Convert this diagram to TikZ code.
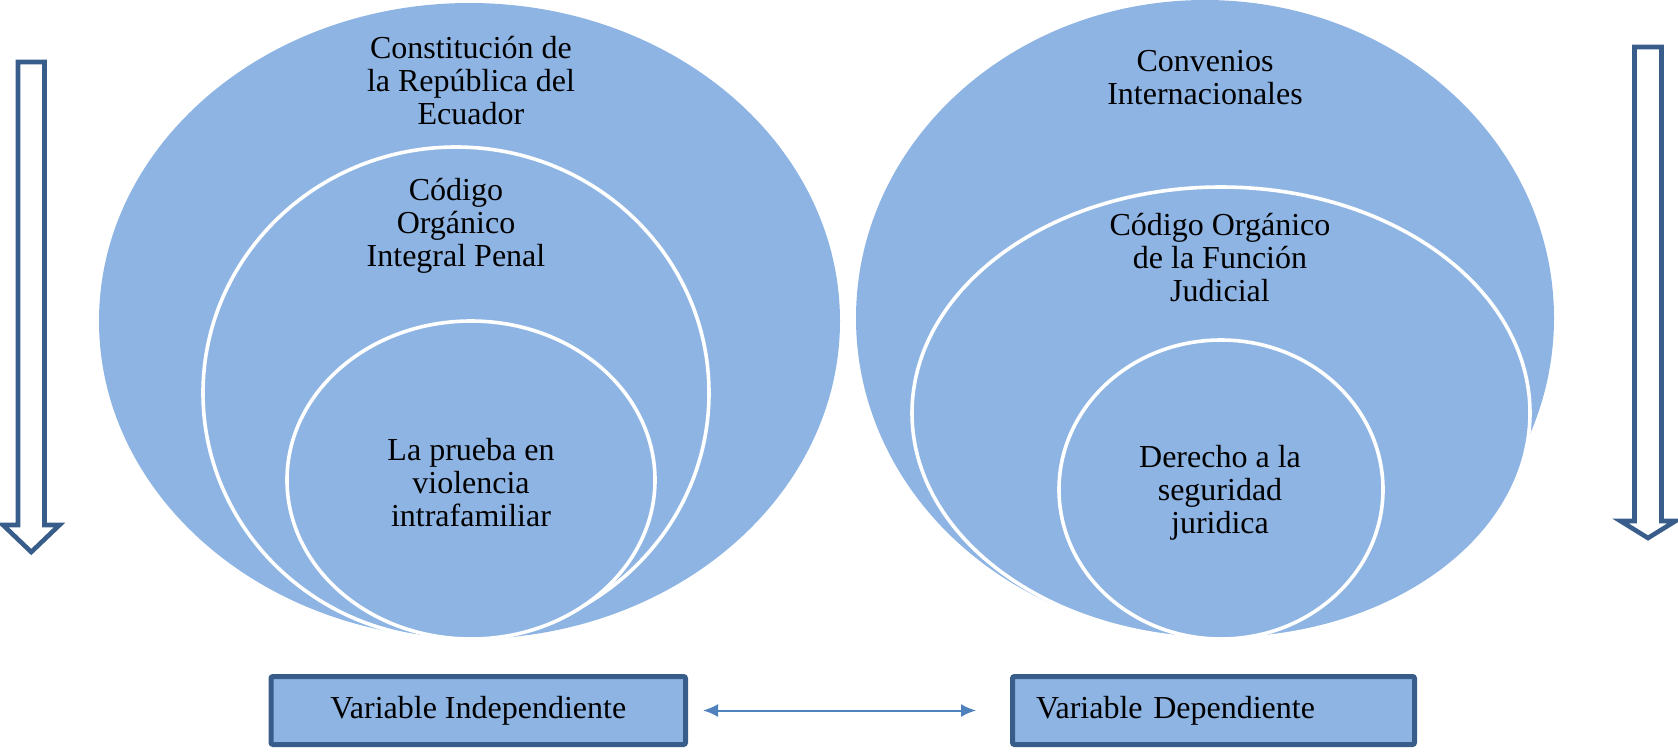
\documentclass[tikz,border=0pt]{standalone}
\usepackage{fontspec}
\setmainfont{Liberation Serif}
\usetikzlibrary{positioning,arrows.meta}
\definecolor{ringblue}{HTML}{8EB4E3}
\definecolor{boxblue}{HTML}{385D8A}
\definecolor{linkblue}{HTML}{4F81BD}

\begin{document}
\begin{tikzpicture}[
x=0.5pt,y=-0.5pt,
ring/.style={
  fill=ringblue,
  draw=white,
  line width=1.8pt},
lbl/.style={
  font=\fontsize{16}{16.5}\selectfont,
  align=center,
  inner sep=0pt},
varbox/.style={
  draw=boxblue,
  fill=ringblue,
  line width=2.5pt,
  rounded corners=1pt,
  minimum height=34pt,
  inner sep=0pt,
  font=\fontsize{16}{16.5}\selectfont},
downarrow/.style={
  draw=boxblue,
  fill=white,
  line width=2.3pt},
link/.style={
  draw=linkblue,
  line width=1pt,
  {Latex[length=7.5pt,width=6.5pt]}-{Latex[length=7.5pt,width=6.5pt]},
  shorten <=7.5pt,
  shorten >=17pt}
]
\useasboundingbox (0,0) rectangle (1678,751);
% left target
\fill[ringblue] (469.5,321) ellipse [x radius=370.5, y radius=318];
\draw[ring] (456,393) ellipse [x radius=253, y radius=246];
\draw[ring] (471,480) ellipse [x radius=184, y radius=159];
% right target
\fill[ringblue] (1205,318) ellipse [x radius=349, y radius=318];
\draw[ring] (1221,413) ellipse [x radius=309, y radius=226];
\draw[ring] (1221,489.5) ellipse [x radius=162, y radius=149.5];
\node[lbl] (constitucion) at (471,81) {Constitución de\\la República del\\Ecuador};
\node[lbl] (coip) at (456,226) {Código\\Orgánico\\Integral Penal};
\node[lbl] (prueba) at (471,483) {La prueba en\\violencia\\intrafamiliar};
\node[lbl] (convenios) at (1205,77.5) {Convenios\\Internacionales};
\node[lbl] (cofj) at (1220,258) {Código Orgánico\\de la Función\\Judicial};
\node[lbl] (seguridad) at (1220,493) {Derecho a la\\seguridad\\juridica};
% side arrows
\draw[downarrow] (18,62) -- (44.5,62) -- (44.5,525) -- (59.5,525)
  -- (31.25,552) -- (3,525) -- (18,525) -- cycle;
\draw[downarrow] (1634.5,47) -- (1661.5,47) -- (1661.5,521) -- (1675.5,521)
  -- (1648,538) -- (1620.5,521) -- (1634.5,521) -- cycle;
% variables
\node[varbox, minimum width=207.25pt] (indep) at (478.25,710.5) {Variable Independiente};
\node[varbox, minimum width=201pt, text width=177.5pt, inner xsep=11.75pt, align=left]
  (dep) at (1213.5,710.5) {Variable Dependiente};
\draw[link] (indep) -- (dep);
\end{tikzpicture}
\end{document}
